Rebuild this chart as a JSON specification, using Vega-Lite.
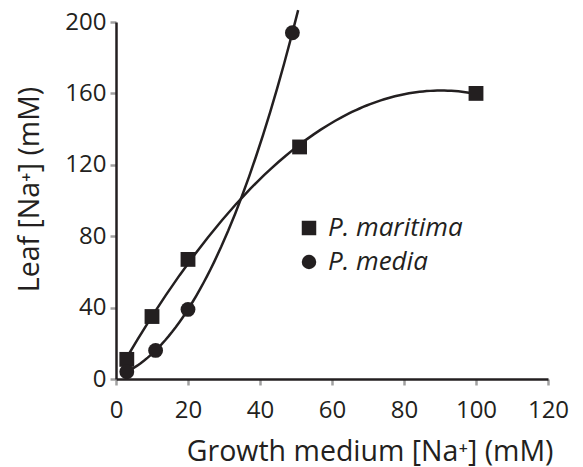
{
  "$schema": "https://vega.github.io/schema/vega-lite/v6.json",
  "autosize": {"type": "none"},
  "padding": {"left": 116, "top": 22, "right": 35, "bottom": 88},
  "width": 432,
  "height": 357,
  "background": "white",
  "config": {
    "view": {"stroke": null},
    "font": "Open Sans",
    "axis": {"grid": false, "domainColor": "#231f20", "domainWidth": 2.5, "tickColor": "#a0a0a0", "tickWidth": 2.5, "tickSize": 6, "labelFont": "Open Sans", "labelFontSize": 24, "labelColor": "#231f20", "titleFont": "Open Sans", "titleFontSize": 28.5, "titleFontWeight": "normal", "titleColor": "#231f20"}
  },
  "data": {
    "values": [
      {"species": "P. maritima", "x": 3, "y": 11},
      {"species": "P. maritima", "x": 10, "y": 35},
      {"species": "P. maritima", "x": 20, "y": 67},
      {"species": "P. maritima", "x": 51, "y": 130},
      {"species": "P. maritima", "x": 100, "y": 160},
      {"species": "P. media", "x": 3, "y": 4},
      {"species": "P. media", "x": 11, "y": 16},
      {"species": "P. media", "x": 20, "y": 39},
      {"species": "P. media", "x": 49, "y": 194}
    ]
  },
  "layer": [
    {
      "transform": [
        {"filter": "datum.species === 'P. maritima'"},
        {"regression": "y", "on": "x", "method": "poly", "order": 2, "extent": [2, 100]}
      ],
      "mark": {"type": "line", "color": "#231f20", "strokeWidth": 2.5, "clip": false},
      "encoding": {
        "x": {"field": "x", "type": "quantitative"},
        "y": {"field": "y", "type": "quantitative"}
      }
    },
    {
      "transform": [
        {"filter": "datum.species === 'P. media'"},
        {"regression": "y", "on": "x", "method": "poly", "order": 3, "extent": [2, 50.6]}
      ],
      "mark": {"type": "line", "color": "#231f20", "strokeWidth": 2.5, "clip": false},
      "encoding": {
        "x": {"field": "x", "type": "quantitative"},
        "y": {"field": "y", "type": "quantitative"}
      }
    },
    {
      "mark": {"type": "point", "filled": true, "opacity": 1, "size": 220},
      "encoding": {
        "x": {"field": "x", "type": "quantitative", "scale": {"domain": [0, 120], "nice": false},
          "axis": {"values": [0, 20, 40, 60, 80, 100, 120], "labelFlush": false, "title": "Growth medium [Na⁺] (mM)", "titleAnchor": "end", "titleAlign": "right", "titleBaseline": "alphabetic", "titleX": 437, "titleY": 81, "labelPadding": 13}},
        "y": {"field": "y", "type": "quantitative", "scale": {"domain": [0, 200], "nice": false},
          "axis": {"values": [0, 20, 40, 60, 80, 100, 120, 140, 160, 180, 200], "labelFlush": false, "labelExpr": "datum.value % 40 === 0 ? datum.label : ''", "title": "Leaf [Na⁺] (mM)", "titleY": 167, "titlePadding": 20, "labelPadding": 4}},
        "shape": {"field": "species", "type": "nominal", "scale": {"domain": ["P. maritima", "P. media"], "range": ["square", "circle"]},
          "legend": {"orient": "none", "legendX": 180, "legendY": 193, "title": null, "labelFont": "Open Sans", "labelFontSize": 26, "labelFontStyle": "italic", "labelColor": "#231f20", "symbolSize": 210, "symbolFillColor": "#231f20", "symbolStrokeColor": "#231f20", "rowPadding": 8, "labelOffset": 6}},
        "color": {"value": "#231f20"}
      }
    }
  ]
}
